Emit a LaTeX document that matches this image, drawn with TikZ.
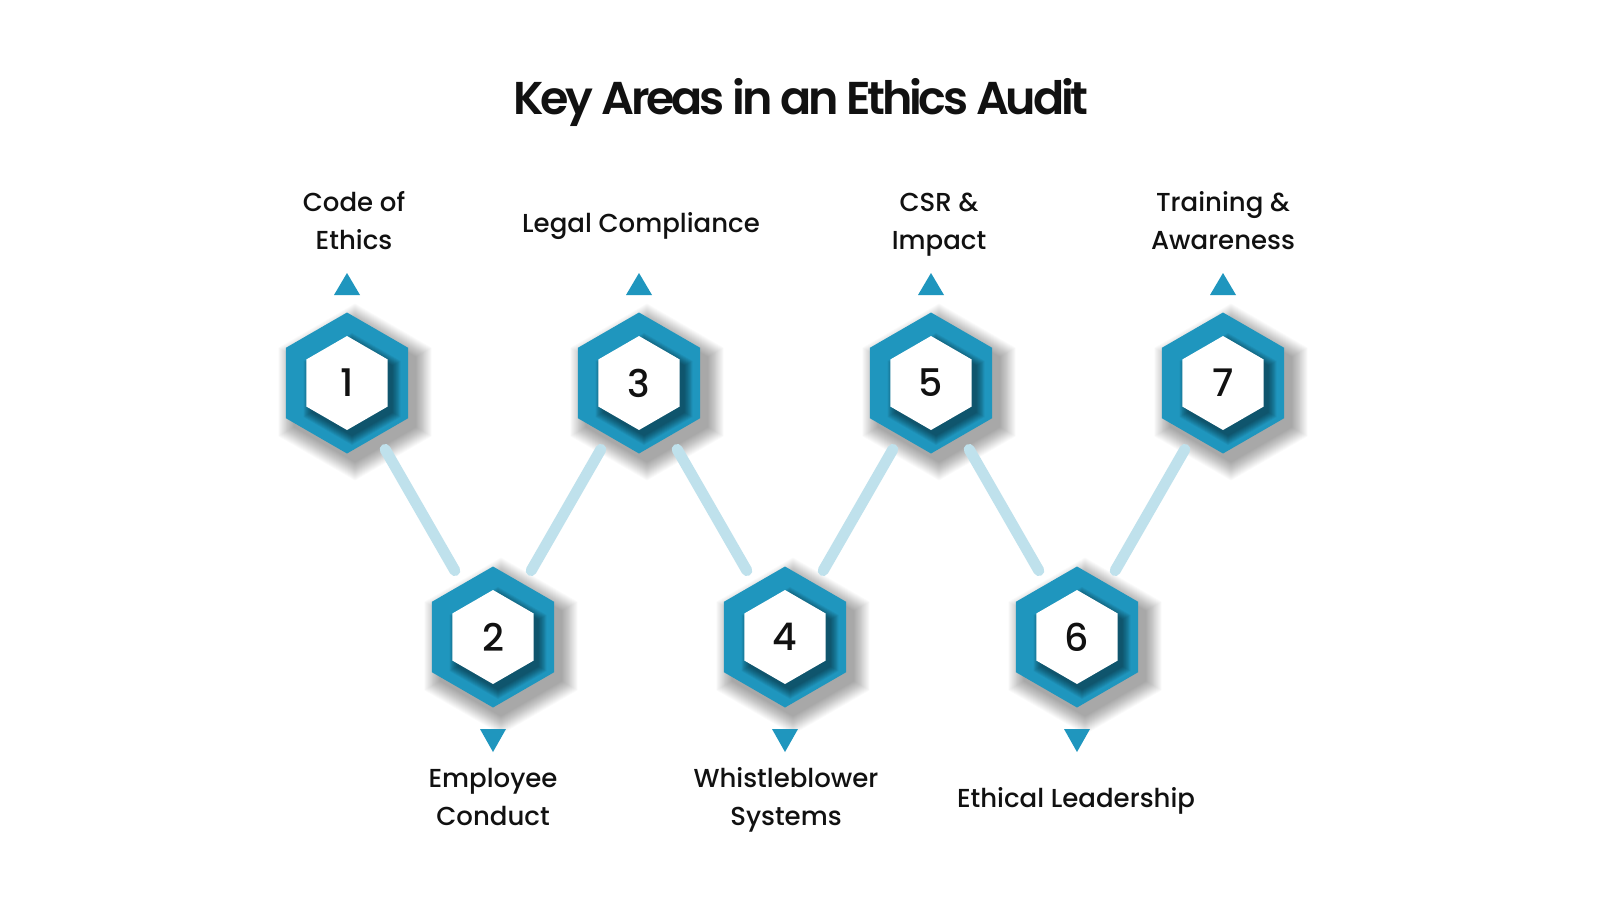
\documentclass[tikz,border=0pt]{standalone}
\usepackage{fontspec}
\setmainfont{Poppins}
\newfontfamily\medfont{Poppins Medium}
\newfontfamily\semifont[LetterSpace=-7]{Poppins SemiBold}
\usetikzlibrary{shapes.geometric,calc}
\definecolor{hexblue}{HTML}{1F96BE}
\definecolor{connblue}{HTML}{BFE1EC}
\definecolor{ink}{HTML}{111111}
\tikzset{
  outerhex/.style={regular polygon, regular polygon sides=6, shape border rotate=30,
    minimum size=141pt, inner sep=0pt, outer sep=0pt, fill=hexblue},
  innerhex/.style={regular polygon, regular polygon sides=6, shape border rotate=30,
    minimum size=94pt, inner sep=0pt, outer sep=0pt, fill=white, text=ink,
    font=\medfont\fontsize{38}{40}\selectfont},
  outershade/.style={fill=black, opacity=0.02},
  innershade/.style={fill=black, opacity=0.05},
  conn/.style={draw=connblue, line width=11pt, line cap=round, shorten <=15.5pt, shorten >=15.5pt},
  lbl/.style={font=\medfont\fontsize{26}{38}\selectfont, text=ink, align=center, inner sep=0pt},
  tri/.style={fill=hexblue}
}
\newcommand\hexshape[1]{(90:#1) -- (30:#1) -- (-30:#1) -- (-90:#1) -- (-150:#1) -- (150:#1) -- cycle}
\begin{document}
\begin{tikzpicture}[x=1pt,y=-1pt]
\fill[white] (0,0) rectangle (1600,900);
\useasboundingbox (0,0) rectangle (1600,900);

\node[font=\semifont\fontsize{46}{56}\selectfont, text=ink, anchor=base, inner sep=0pt] (title) at (801,114) {Key Areas in an Ethics Audit};

% soft drop shadows of the outer hexagons
\foreach \x/\y in {347/383,493/637,639/383,785/637,931/383,1077/637,1223/383}{
  \foreach \k in {0,...,18}{
    \pgfmathsetmacro\rr{88.5-\k}
    \fill[outershade, shift={(\x+8,\y+9)}] \hexshape{\rr};
  }
}
% outer hexagons
\foreach \i/\x/\y in {1/347/383,2/493/637,3/639/383,4/785/637,5/931/383,6/1077/637,7/1223/383}{
  \node[outerhex] (h\i) at (\x,\y) {};
}
% connectors
\draw[conn] (h1) -- (h2);
\draw[conn] (h2) -- (h3);
\draw[conn] (h3) -- (h4);
\draw[conn] (h4) -- (h5);
\draw[conn] (h5) -- (h6);
\draw[conn] (h6) -- (h7);
% shadows of the inner hexagons on the blue ring
\foreach \x/\y in {347/383,493/637,639/383,785/637,931/383,1077/637,1223/383}{
  \foreach \k in {0,...,9}{
    \pgfmathsetmacro\rr{56-\k}
    \fill[innershade, shift={(\x+5,\y+6)}] \hexshape{\rr};
  }
}
% inner hexagons with numbers
\foreach \i/\x/\y in {1/347/383,2/493/637,3/639/383,4/785/637,5/931/383,6/1077/637,7/1223/383}{
  \node[innerhex] (n\i) at (\x,\y) {\i};
}
% triangles
\foreach \x in {347,639,931,1223}{
  \fill[tri] (\x-13,295) -- (\x+13,295) -- (\x,273) -- cycle;
}
\foreach \x in {493,785,1077}{
  \fill[tri] (\x-13,729) -- (\x+13,729) -- (\x,752) -- cycle;
}
% labels (base anchor = baseline of last line)
\node[lbl, anchor=base] (l1) at (354,249) {Code of\\Ethics};
\node[lbl, anchor=base] (l3) at (641,232) {Legal Compliance};
\node[lbl, anchor=base] (l5) at (939,249) {CSR \&\\Impact};
\node[lbl, anchor=base] (l7) at (1223,249) {Training \&\\Awareness};
\node[lbl, anchor=base] (l2) at (493,825) {Employee\\Conduct};
\node[lbl, anchor=base] (l4) at (786,825) {Whistleblower\\Systems};
\node[lbl, anchor=base] (l6) at (1076,807) {Ethical Leadership};
\end{tikzpicture}
\end{document}
